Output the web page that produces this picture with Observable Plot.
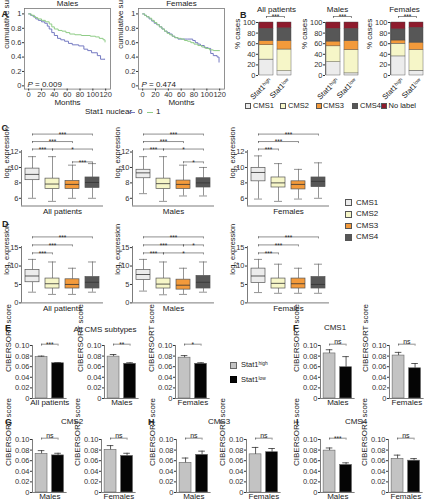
<!DOCTYPE html>
<html><head><meta charset="utf-8">
<script src="https://cdn.jsdelivr.net/npm/d3@7"></script>
<script src="https://cdn.jsdelivr.net/npm/@observablehq/plot@0.6"></script>
<style>
body{margin:0;background:#fff;}
#fig{position:relative;width:425px;height:500px;overflow:hidden;font-family:"Liberation Sans",Arial,Helvetica,sans-serif;color:#222;}
.lbl{position:absolute;white-space:nowrap;line-height:1;}
.lbl sup{font-size:0.65em;vertical-align:0.45em;line-height:0;}
.sw{position:absolute;box-sizing:border-box;}
</style></head><body><div id="fig"></div>
<script>
// ================= DATA =================
// A: Kaplan-Meier curves [months, cumulative survival]
const kmMonthTicks = [0, 20, 40, 60, 80, 100, 120];
const kmSurvTicks = [0, 0.2, 0.4, 0.6, 0.8, 1];
const kmGroups = ["0", "1"];
const kmMales0 = [[0,1],[3,0.98],[7,0.96],[11,0.93],[15,0.91],[20,0.89],[25,0.87],[29,0.83],[32,0.79],[36,0.74],[40,0.70],[45,0.66],[50,0.64],[56,0.62],[62,0.59],[68,0.57],[78,0.555],[86,0.51],[92,0.49],[98,0.46],[107,0.42],[112,0.37],[119,0.37]];
const kmMales1 = [[0,1],[4,0.98],[9,0.95],[14,0.93],[20,0.91],[26,0.89],[32,0.86],[36,0.82],[40,0.79],[46,0.77],[52,0.76],[58,0.74],[64,0.72],[72,0.71],[82,0.70],[96,0.69],[104,0.68],[110,0.66],[116,0.64],[119,0.61]];
const kmFemales0 = [[0,1],[3,0.98],[6,0.96],[10,0.93],[14,0.90],[18,0.87],[22,0.85],[26,0.82],[30,0.79],[34,0.76],[38,0.74],[42,0.72],[46,0.69],[50,0.67],[55,0.65],[70,0.65],[78,0.63],[82,0.60],[86,0.58],[90,0.56],[96,0.53],[102,0.52],[106,0.45],[110,0.42],[116,0.40],[119,0.33]];
const kmFemales1 = [[0,1],[3,0.98],[6,0.96],[10,0.94],[14,0.91],[18,0.88],[22,0.85],[26,0.82],[30,0.79],[34,0.76],[38,0.73],[42,0.71],[46,0.69],[50,0.67],[55,0.66],[60,0.65],[65,0.63],[70,0.62],[75,0.60],[80,0.58],[86,0.56],[92,0.54],[98,0.52],[104,0.50],[110,0.49],[120,0.49]];
const kmPValues = ["P = 0.009", "P = 0.474"];
const sexes = ["Males", "Females"];

// B: % cases per CMS class [Stat1 high, Stat1 low]
const cmsClasses = ["CMS1", "CMS2", "CMS3", "CMS4", "No label"];
const stat1Groups = ["Stat1^high", "Stat1^low"];
const cohorts = ["All patients", "Males", "Females"];
const bAllPatients = [[30, 27, 8, 23, 12], [8, 41, 16, 24, 11]];
const bMales = [[25, 30, 9, 24, 12], [4, 44, 17, 23, 12]];
const bFemales = [[36, 24, 6, 21, 13], [9, 39, 14, 28, 10]];
const bSig = ["***", "***", "***"];
const pctTicks = [0, 20, 40, 60, 80, 100];

// C: log2 expression box stats [min, q1, median, q3, max] for CMS1..CMS4
const cmsBox = ["CMS1", "CMS2", "CMS3", "CMS4"];
const cAllPatients = [[6.0,8.35,9.1,9.85,11.4],[5.6,7.2,7.85,8.55,11.4],[6.0,7.2,7.8,8.25,10.3],[6.0,7.35,8.05,8.7,10.5]];
const cMales = [[6.6,8.6,9.3,9.7,11.4],[5.6,7.2,7.9,8.55,11.4],[6.3,7.2,7.8,8.3,10.3],[6.3,7.4,8.0,8.6,10.0]];
const cFemales = [[5.9,8.2,9.35,9.95,11.5],[5.6,7.4,8.0,8.7,10.5],[5.9,7.15,7.8,8.2,9.75],[6.0,7.45,8.2,8.7,10.6]];
const cTicks = [6, 8, 10, 12];
// significance brackets [from CMS, to CMS, label, row]
const cSigAll = [[0,3,"***",0],[0,2,"***",1],[0,1,"***",2],[1,3,"*",2],[2,3,"***",3]];
const cSigMales = [[0,3,"***",0],[0,2,"***",1],[0,1,"***",2],[1,3,"*",2],[2,3,"*",3]];
const cSigFemales = [[0,3,"***",0],[0,2,"***",1],[0,1,"***",2]];

// D
const dAllPatients = [[2.9,5.6,7.3,8.9,11.8],[2.3,3.9,5.2,6.6,11.1],[2.3,3.9,5.0,6.4,9.4],[2.9,3.9,5.6,7.0,11.1]];
const dMales = [[3.2,6.2,7.7,8.9,11.8],[2.2,3.9,5.1,6.6,11.1],[2.3,3.6,4.8,6.3,9.4],[2.9,3.9,5.6,7.3,11.1]];
const dFemales = [[2.8,5.4,7.3,9.3,11.8],[2.6,3.9,5.3,6.6,10.5],[2.6,3.9,5.2,6.6,9.4],[2.6,3.9,5.0,7.0,10.5]];
const dTicks = [0, 5, 10, 15];
const dSigAll = [[0,3,"***",0],[0,2,"***",1],[0,1,"***",2]];
const dSigMales = [[0,3,"***",0],[0,2,"***",1],[2,3,"*",1],[0,1,"***",2],[1,3,"*",2]];
const dSigFemales = [[0,3,"***",0],[0,2,"***",1],[0,1,"***",2]];

// E-I: CIBERSORT score mean and SEM [Stat1 high, Stat1 low]
const ciberTicks = [0, 0.02, 0.04, 0.06, 0.08, 0.10];
const eMeans = [[0.078, 0.0665], [0.079, 0.0655], [0.077, 0.0655]];
const eSems = [[0.002, 0.0012], [0.004, 0.002], [0.004, 0.002]];
const eSig = ["***", "**", "*"];
const cms1Means = [[0.085, 0.059], [0.081, 0.057]];
const cms1Sems = [[0.007, 0.020], [0.006, 0.009]];
const cms1Sig = ["ns", "ns"];
const cms2Means = [[0.073, 0.070], [0.0805, 0.069]];
const cms2Sems = [[0.006, 0.004], [0.008, 0.005]];
const cms2Sig = ["ns", "ns"];
const cms3Means = [[0.056, 0.071], [0.072, 0.076]];
const cms3Sems = [[0.009, 0.007], [0.013, 0.007]];
const cms3Sig = ["ns", "ns"];
const cms4Means = [[0.079, 0.052], [0.0635, 0.060]];
const cms4Sems = [[0.005, 0.004], [0.007, 0.004]];
const cms4Sig = ["***", "ns"];

// ================= STYLE =================
const FONT = '"Liberation Sans", Arial, Helvetica, sans-serif';
const INK = "#333";
const kmColors = ["#7479c2", "#8fcc86"];
const cmsColors = ["#ececec", "#f6f6c8", "#f39a3b", "#575757", "#8e1b2d"];
const stat1Colors = ["#c3c3c3", "#050505"];
const SVGNS = "http://www.w3.org/2000/svg";
const fig = document.getElementById("fig");

function styleObj() {
  return {fontFamily: FONT, fontSize: "7.5px", background: "transparent", overflow: "visible", maxWidth: "none", color: INK};
}
function fixText(root) {
  root.querySelectorAll("text, tspan").forEach(el => {
    if (el.children.length) return;
    const t = el.textContent;
    if (t.startsWith("P = ")) {
      el.textContent = "";
      const ts = document.createElementNS(SVGNS, "tspan");
      ts.setAttribute("font-style", "italic"); ts.textContent = "P";
      el.appendChild(ts); el.appendChild(document.createTextNode(t.slice(1)));
      return;
    }
    const m = t.match(/^(.*?)([\^_])([A-Za-z0-9]+)(.*)$/);
    if (!m) return;
    el.textContent = m[1];
    const ts = document.createElementNS(SVGNS, "tspan");
    ts.setAttribute("baseline-shift", m[2] === "^" ? "super" : "sub");
    ts.setAttribute("font-size", "65%");
    ts.textContent = m[3];
    el.appendChild(ts);
    if (m[4]) {
      const rest = document.createElementNS(SVGNS, "tspan");
      rest.textContent = m[4];
      el.appendChild(rest);
    }
  });
}
function mount(svg, left, top) {
  svg.style.position = "absolute";
  svg.style.left = left + "px";
  svg.style.top = top + "px";
  svg.style.overflow = "visible";
  svg.style.maxWidth = "none";
  svg.style.background = "transparent";
  fixText(svg);
  fig.appendChild(svg);
}
function label(html, x, y, {size = 8, weight = "normal", anchor = "start", color = "#222"} = {}) {
  const d = document.createElement("div");
  d.className = "lbl";
  d.innerHTML = html;
  d.style.left = x + "px"; d.style.top = y + "px";
  d.style.fontSize = size + "px"; d.style.fontWeight = weight; d.style.color = color;
  d.style.transform = anchor === "middle" ? "translate(-50%,-50%)" : "translate(0,-50%)";
  fig.appendChild(d);
}
function swatch(x, yc, size, fill, stroke) {
  const d = document.createElement("div");
  d.className = "sw";
  d.style.left = x + "px"; d.style.top = (yc - size / 2) + "px";
  d.style.width = size + "px"; d.style.height = size + "px";
  d.style.background = fill; d.style.border = "0.7px solid " + stroke;
  fig.appendChild(d);
}
function lineSwatch(x, yc, w, color) {
  const d = document.createElement("div");
  d.className = "sw";
  d.style.left = x + "px"; d.style.top = (yc - 0.5) + "px";
  d.style.width = w + "px"; d.style.height = "0px";
  d.style.borderTop = "1.2px solid " + color;
  fig.appendChild(d);
}
const sup = s => s.replace(/\^(\w+)/, "<sup>$1</sup>");

// significance brackets: brs = [{x1,x2,y,label}], tick = downward tick length in data units
function bracketMarks(brs, tick) {
  const ends = brs.flatMap(b => [{x: b.x1, y: b.y}, {x: b.x2, y: b.y}]);
  const stars = brs.filter(b => b.label.startsWith("*"));
  const words = brs.filter(b => !b.label.startsWith("*"));
  return [
    Plot.ruleY(brs, {x1: "x1", x2: "x2", y: "y", stroke: "#444", strokeWidth: 0.6}),
    Plot.ruleX(ends, {x: "x", y1: "y", y2: d => d.y - tick, stroke: "#444", strokeWidth: 0.6}),
    Plot.text(stars, {x: d => (d.x1 + d.x2) / 2, y: "y", text: "label", lineAnchor: "bottom", dy: 2.6, fontSize: 6.5, fill: "#222"}),
    Plot.text(words, {x: d => (d.x1 + d.x2) / 2, y: "y", text: "label", lineAnchor: "bottom", dy: -0.3, fontSize: 7, fill: "#222"})
  ];
}

// ================= PANEL A =================
function kmPanel(title, pText, c0, c1, frameLeft) {
  const mL = 30, mR = 4, mT = 12, mB = 26;
  const xDom = [-6.5, 127.5], yDom = [-0.045, 1.075];
  const fw = 86, fh = 80.6, frameTop = 7.6;
  const rows = [...c0.map(([t, s]) => ({t, s, g: kmGroups[0]})), ...c1.map(([t, s]) => ({t, s, g: kmGroups[1]}))];
  const svg = Plot.plot({
    width: fw + mL + mR, height: fh + mT + mB,
    marginLeft: mL, marginRight: mR, marginTop: mT, marginBottom: mB,
    style: styleObj(),
    x: {domain: xDom},
    y: {domain: yDom},
    color: {domain: kmGroups, range: kmColors},
    marks: [
      Plot.frame({stroke: "#777", strokeWidth: 0.8}),
      Plot.axisX({ticks: kmMonthTicks, tickSize: 2, tickPadding: 1, label: null, fontSize: 7.5}),
      Plot.axisY({ticks: kmSurvTicks, tickSize: 2, tickPadding: 1, label: null, fontSize: 7.5, tickFormat: d => String(d)}),
      Plot.line(rows, {x: "t", y: "s", z: "g", stroke: "g", curve: "step-after", strokeWidth: 1}),
      Plot.text([pText], {frameAnchor: "bottom-left", text: d => d, dx: 3, dy: -2.5, textAnchor: "start", lineAnchor: "bottom", fontSize: 8, fill: "#222"}),
      Plot.text([title], {frameAnchor: "top", text: d => d, dy: -2.5, lineAnchor: "bottom", fontSize: 8, fill: "#222"}),
      Plot.text(["Months"], {frameAnchor: "bottom", text: d => d, dy: 16, fontSize: 8, fill: "#222"}),
      Plot.text(["cumulative survival"], {frameAnchor: "left", text: d => d, dx: -18.5, rotate: -90, fontSize: 8, fill: "#222"})
    ]
  });
  mount(svg, frameLeft - mL, frameTop - mT);
}
kmPanel(sexes[0], kmPValues[0], kmMales0, kmMales1, 23.8);
kmPanel(sexes[1], kmPValues[1], kmFemales0, kmFemales1, 137.8);
label("Stat1 nuclear", 85, 112, {size: 8});
lineSwatch(129, 112.5, 6, kmColors[0]);
label(kmGroups[0], 138, 112, {size: 8});
lineSwatch(147, 112.5, 6, kmColors[1]);
label(kmGroups[1], 156, 112, {size: 8});

// ================= PANEL B =================
function stackPanel(title, pct, sig, axisX, titleDx) {
  const mL = 32, mR = 4, mT = 26, mB = 32;
  const unit = 18, xDom = [-0.444, 1.556];
  const y100 = 22, y0 = 75;
  const w = unit * (xDom[1] - xDom[0]), h = y0 - y100;
  const rows = [];
  pct.forEach((vals, gi) => {
    const ends = d3.cumsum(vals);
    vals.forEach((v, ci) => rows.push({gi, cms: cmsClasses[ci], y1: ends[ci] - v, y2: ends[ci]}));
  });
  const brs = [{x1: 0, x2: 1, y: 100 + 6 * 100 / h, label: sig}];
  const svg = Plot.plot({
    width: w + mL + mR, height: h + mT + mB,
    marginLeft: mL, marginRight: mR, marginTop: mT, marginBottom: mB,
    style: styleObj(),
    x: {domain: xDom, axis: null},
    y: {domain: [0, 100]},
    color: {domain: cmsClasses, range: cmsColors},
    marks: [
      Plot.axisY({ticks: pctTicks, tickSize: 2, tickPadding: 1, label: null, fontSize: 7.5}),
      Plot.ruleX([xDom[0]], {y1: () => 0, y2: () => 100, stroke: "#444", strokeWidth: 0.7}),
      Plot.rect(rows, {x1: d => d.gi - 0.39, x2: d => d.gi + 0.39, y1: "y1", y2: "y2", fill: "cms", stroke: "#444", strokeWidth: 0.4}),
      ...bracketMarks(brs, 2 * 100 / h),
      Plot.text(stat1Groups, {x: (d, i) => i, y: () => 0, text: d => d, rotate: -45, textAnchor: "end", dx: 4, dy: 4, fontSize: 7.5, fill: "#222"}),
      Plot.text([title], {frameAnchor: "top", text: d => d, dy: -16, dx: titleDx, fontSize: 8, fill: "#222"}),
      Plot.text(["% cases"], {frameAnchor: "left", text: d => d, dx: -21, rotate: -90, fontSize: 8, fill: "#222"})
    ]
  });
  mount(svg, axisX - mL, y100 - mT);
}
stackPanel(cohorts[0], bAllPatients, bSig[0], 258, 0);
stackPanel(cohorts[1], bMales, bSig[1], 324.5, -6);
stackPanel(cohorts[2], bFemales, bSig[2], 389.5, -4);
[[245, 253], [280, 288], [315.5, 323], [352, 360], [380.5, 388.5]].forEach(([sx, tx], i) => {
  swatch(sx, 106, 6, cmsColors[i], "#555");
  label(cmsClasses[i], tx, 106, {size: 7.5});
});

// ================= PANELS C, D =================
function boxPanel(stats, sig, axisX, yDom, ticks, pxTop, pxBottom, rowVals, sub) {
  const mL = 30, mR = 4, mT = 34, mB = 16;
  const unit = 20, xDom = [-0.55, 3.55];
  const w = unit * (xDom[1] - xDom[0]), h = pxBottom - pxTop;
  const perPx = (yDom[1] - yDom[0]) / h;
  const boxes = stats.map(([mn, q1, md, q3, mx], i) => ({i, cms: cmsBox[i], mn, q1, md, q3, mx}));
  const brs = sig.map(([a, b, lab, r]) => ({x1: a, x2: b, y: rowVals[r], label: lab}));
  const svg = Plot.plot({
    width: w + mL + mR, height: h + mT + mB,
    marginLeft: mL, marginRight: mR, marginTop: mT, marginBottom: mB,
    style: styleObj(),
    x: {domain: xDom, axis: null},
    y: {domain: yDom},
    color: {domain: cmsBox, range: cmsColors.slice(0, 4)},
    marks: [
      Plot.axisY({ticks, tickSize: 2, tickPadding: 1, label: null, fontSize: 7.5}),
      Plot.ruleX([xDom[0]], {y1: () => yDom[0], y2: () => yDom[1], stroke: "#444", strokeWidth: 0.7}),
      Plot.ruleY([yDom[0]], {x1: () => xDom[0], x2: () => xDom[1], stroke: "#444", strokeWidth: 0.7}),
      Plot.ruleX(boxes, {x: "i", y1: "mn", y2: "q1", stroke: "#666", strokeWidth: 0.7}),
      Plot.ruleX(boxes, {x: "i", y1: "q3", y2: "mx", stroke: "#666", strokeWidth: 0.7}),
      Plot.ruleY(boxes, {y: "mn", x1: d => d.i - 0.2, x2: d => d.i + 0.2, stroke: "#666", strokeWidth: 0.7}),
      Plot.ruleY(boxes, {y: "mx", x1: d => d.i - 0.2, x2: d => d.i + 0.2, stroke: "#666", strokeWidth: 0.7}),
      Plot.rect(boxes, {x1: d => d.i - 0.35, x2: d => d.i + 0.35, y1: "q1", y2: "q3", fill: "cms", stroke: "#555", strokeWidth: 0.7}),
      Plot.ruleY(boxes, {y: "md", x1: d => d.i - 0.35, x2: d => d.i + 0.35, stroke: "#333", strokeWidth: 0.8}),
      ...bracketMarks(brs, 2 * perPx),
      Plot.text([sub], {x: () => 1.5, y: () => yDom[0], text: d => d, lineAnchor: "top", dy: 2, fontSize: 8, fill: "#222"}),
      Plot.text(["log_2 expression"], {frameAnchor: "left", text: d => d, dx: -15, rotate: -90, fontSize: 7.5, fill: "#222"})
    ]
  });
  mount(svg, axisX - mL, pxTop - mT);
}
const cRows = [14.33, 13.36, 12.39, 10.72];
const dRows = [17.9, 15.73, 13.56];
const cDom = [5, 12.2], dDom = [0, 15.3];
boxPanel(cAllPatients, cSigAll, 21, cDom, cTicks, 150, 205.5, cRows, cohorts[0]);
boxPanel(cMales, cSigMales, 132, cDom, cTicks, 150, 205.5, cRows, cohorts[1]);
boxPanel(cFemales, cSigFemales, 247, cDom, cTicks, 150, 205.5, cRows, cohorts[2]);
boxPanel(dAllPatients, dSigAll, 21, dDom, dTicks, 245.6, 302, dRows, cohorts[0]);
boxPanel(dMales, dSigMales, 132, dDom, dTicks, 245.6, 302, dRows, cohorts[1]);
boxPanel(dFemales, dSigFemales, 247, dDom, dTicks, 245.6, 302, dRows, cohorts[2]);
[202.7, 214.3, 226, 237.3].forEach((yc, i) => {
  swatch(345, yc, 6.5, cmsColors[i], "#555");
  label(cmsBox[i], 356, yc, {size: 8});
});

// ================= PANELS E-I =================
function barPair(means, sems, sig, axisX, pxTop, pxBottom, sub) {
  const mL = 34, mR = 4, mT = 16, mB = 16;
  const unit = 16.5, xDom = [-0.55, 1.55];
  const w = unit * (xDom[1] - xDom[0]), h = pxBottom - pxTop;
  const perPx = 0.10 / h;
  const bars = means.map((m, i) => ({i, g: stat1Groups[i], m, e: sems[i]}));
  const brs = [{x1: 0, x2: 1, y: 0.1025, label: sig}];
  const svg = Plot.plot({
    width: w + mL + mR, height: h + mT + mB,
    marginLeft: mL, marginRight: mR, marginTop: mT, marginBottom: mB,
    style: styleObj(),
    x: {domain: xDom, axis: null},
    y: {domain: [0, 0.10]},
    color: {domain: stat1Groups, range: stat1Colors},
    marks: [
      Plot.axisY({ticks: ciberTicks, tickSize: 2, tickPadding: 1, label: null, fontSize: 7.5, tickFormat: d => d === 0 ? "0" : d.toFixed(2)}),
      Plot.ruleX([xDom[0]], {y1: () => 0, y2: () => 0.10, stroke: "#444", strokeWidth: 0.7}),
      Plot.ruleY([0], {x1: () => xDom[0], x2: () => xDom[1], stroke: "#444", strokeWidth: 0.7}),
      Plot.rect(bars, {x1: d => d.i - 0.36, x2: d => d.i + 0.36, y1: () => 0, y2: "m", fill: "g", stroke: "#666", strokeWidth: 0.6}),
      Plot.ruleX(bars, {x: "i", y1: "m", y2: d => d.m + d.e, stroke: "#333", strokeWidth: 0.8}),
      Plot.ruleY(bars, {y: d => d.m + d.e, x1: d => d.i - 0.2, x2: d => d.i + 0.2, stroke: "#333", strokeWidth: 0.8}),
      ...bracketMarks(brs, 2 * perPx),
      Plot.text([sub], {x: () => 0.5, y: () => 0, text: d => d, lineAnchor: "top", dy: 1, fontSize: 8, fill: "#222"}),
      Plot.text(["CIBERSORT score"], {frameAnchor: "left", text: d => d, dx: -24, rotate: -90, fontSize: 8, fill: "#222"})
    ]
  });
  mount(svg, axisX - mL, pxTop - mT);
}
// E
[32, 104, 175].forEach((ax, k) => barPair(eMeans[k], eSems[k], eSig[k], ax, 345, 398, cohorts[k]));
// F
[320, 389].forEach((ax, k) => barPair(cms1Means[k], cms1Sems[k], cms1Sig[k], ax, 345, 398, sexes[k]));
// G
[32, 101].forEach((ax, k) => barPair(cms2Means[k], cms2Sems[k], cms2Sig[k], ax, 439, 492, sexes[k]));
// H
[176, 246].forEach((ax, k) => barPair(cms3Means[k], cms3Sems[k], cms3Sig[k], ax, 439, 492, sexes[k]));
// I
[320, 388].forEach((ax, k) => barPair(cms4Means[k], cms4Sems[k], cms4Sig[k], ax, 439, 492, sexes[k]));

swatch(230, 365, 7, stat1Colors[0], "#666");
label(sup(stat1Groups[0]), 241, 365, {size: 7.5});
swatch(230, 379.5, 7, stat1Colors[1], "#000");
label(sup(stat1Groups[1]), 241, 379.5, {size: 7.5});

// ================= LETTERS & TITLES =================
const letterPos = [["A", 1.5, 14], ["B", 240, 15], ["C", 1.5, 128], ["D", 2, 224], ["E", 5, 328], ["F", 293, 328], ["G", 5, 421.5], ["H", 148, 421.5], ["I", 296, 421.5]];
letterPos.forEach(([t, x, y]) => label(t, x, y, {size: 9, weight: "bold"}));
label("All CMS subtypes", 105, 329.5, {size: 8, anchor: "middle"});
label(cmsBox[0], 335, 328, {size: 8, anchor: "middle"});
label(cmsBox[1], 72, 421.5, {size: 8, anchor: "middle"});
label(cmsBox[2], 219, 421.5, {size: 8, anchor: "middle"});
label(cmsBox[3], 356, 421.5, {size: 8, anchor: "middle"});
</script>
</body></html>
